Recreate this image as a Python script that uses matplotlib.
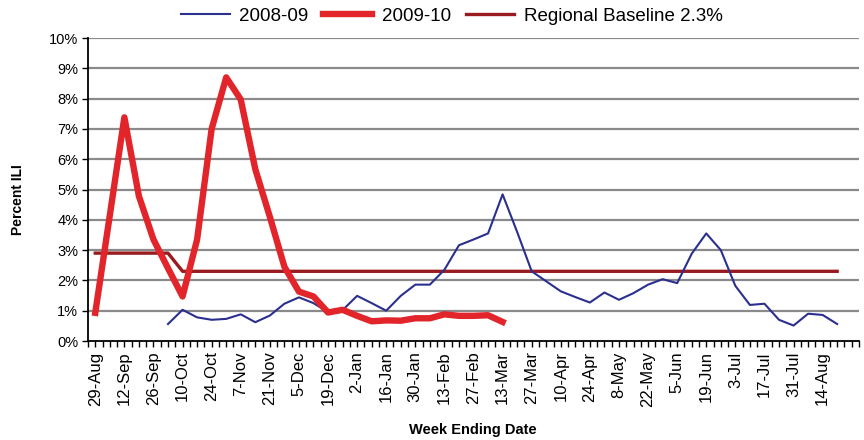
import matplotlib.pyplot as plt
import numpy as np

plt.rcParams['font.family'] = ['Liberation Sans', 'DejaVu Sans']

# week ending dates, labelled every other week (29-Aug 2009 .. 28-Aug 2010)
n_weeks = 53
tick_labels = ["29-Aug", "12-Sep", "26-Sep", "10-Oct", "24-Oct", "7-Nov",
               "21-Nov", "5-Dec", "19-Dec", "2-Jan", "16-Jan", "30-Jan",
               "13-Feb", "27-Feb", "13-Mar", "27-Mar", "10-Apr", "24-Apr",
               "8-May", "22-May", "5-Jun", "19-Jun", "3-Jul", "17-Jul",
               "31-Jul", "14-Aug"]

# 2008-09 season starts at week 5
ili_0809_start = 5
ili_0809 = [0.56, 1.03, 0.78, 0.70, 0.73, 0.88, 0.62, 0.84, 1.23, 1.44,
            1.25, 0.95, 1.02, 1.49, 1.25, 1.00, 1.49, 1.86, 1.86, 2.35,
            3.16, 3.35, 3.55, 4.84, 3.60, 2.30, 1.97, 1.64, 1.45, 1.27,
            1.60, 1.36, 1.58, 1.86, 2.04, 1.91, 2.88, 3.55, 3.00, 1.82,
            1.19, 1.23, 0.70, 0.51, 0.90, 0.86, 0.56]

ili_0910 = [0.93, 4.15, 7.38, 4.78, 3.35, 2.40, 1.47, 3.35, 7.00, 8.70,
            7.97, 5.67, 4.10, 2.45, 1.63, 1.47, 0.94, 1.03, 0.83, 0.65,
            0.68, 0.67, 0.75, 0.75, 0.88, 0.83, 0.83, 0.85, 0.63]

baseline = [2.9, 2.9, 2.9, 2.9, 2.9, 2.9, 2.3, 2.3, 2.3, 2.3,
            2.3, 2.3, 2.3, 2.3, 2.3, 2.3, 2.3, 2.3, 2.3, 2.3,
            2.3, 2.3, 2.3, 2.3, 2.3, 2.3, 2.3, 2.3, 2.3, 2.3,
            2.3, 2.3, 2.3, 2.3, 2.3, 2.3, 2.3, 2.3, 2.3, 2.3,
            2.3, 2.3, 2.3, 2.3, 2.3, 2.3, 2.3, 2.3, 2.3, 2.3,
            2.3, 2.3]

fig = plt.figure(figsize=(8.64, 4.4), dpi=100)
ax = fig.add_axes([88 / 864, 1 - 341 / 440, (859 - 88) / 864, (341 - 38) / 440])

x0809 = np.arange(ili_0809_start, ili_0809_start + len(ili_0809))
ax.plot(x0809, ili_0809, color="#2b2f8e", lw=1.5, label="2008-09", zorder=4)
ax.plot(np.arange(len(ili_0910)), ili_0910, color="#e2242b", lw=4.6,
        label="2009-10", zorder=5)
ax.plot(np.arange(len(baseline)), baseline, color="#9a1b1f", lw=2.4,
        label="Regional Baseline 2.3%", zorder=3)

ax.set_xlim(-0.5, n_weeks - 0.5)
ax.set_ylim(0, 10)

ax.set_yticks(np.arange(0, 11, 1))
ax.set_yticklabels([f"{v}%" for v in range(11)], fontsize=10.5)
for v in range(1, 11):
    ax.axhline(v, color="#8a8a8a", lw=1.6, zorder=1)

ax.set_xticks(np.arange(0, 2 * len(tick_labels), 2))
ax.set_xticklabels(tick_labels, rotation=90, fontsize=12)
ax.set_xticks(np.arange(-0.5, n_weeks, 0.5), minor=True)
ax.tick_params(axis="x", which="both", direction="out", length=4, width=1)
ax.tick_params(axis="y", direction="out", length=4, width=1, pad=3)

for side in ["top", "right"]:
    ax.spines[side].set_visible(False)
for side in ["left", "bottom"]:
    ax.spines[side].set_linewidth(1.3)

fig.text(18 / 864, 1 - 200 / 440, "Percent ILI", rotation=90, fontsize=10,
         fontweight="bold", ha="center", va="center")
fig.text(473 / 864, 1 - 430 / 440, "Week Ending Date", fontsize=10.5,
         fontweight="bold", ha="center", va="center")

fig.legend(loc="center", bbox_to_anchor=(0.523, 1 - 16 / 440), ncol=3,
           frameon=False, fontsize=13.5, handlelength=2.6, columnspacing=0.8,
           handletextpad=0.5)

plt.savefig("out.png", dpi=100)
